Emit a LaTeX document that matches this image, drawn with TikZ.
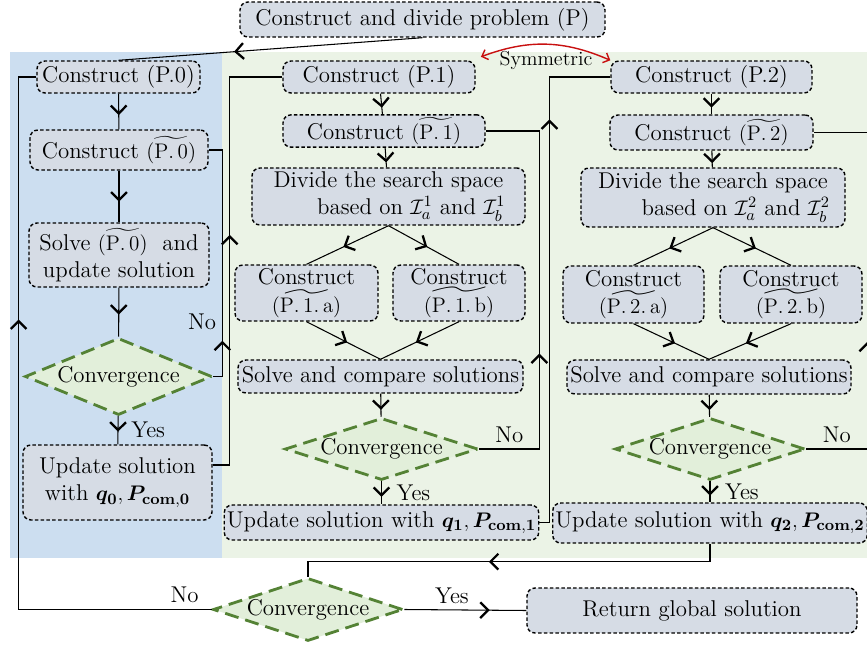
\documentclass[tikz,border=0pt]{standalone}
\usepackage{amsmath}
\usepackage{amssymb}
\usepackage{bm}
\usepackage{pgf, tikz}
\usepackage{xcolor}
\usetikzlibrary{arrows.meta, shapes.geometric, decorations.markings}

\definecolor{bgblue}{RGB}{204,222,240}
\definecolor{bggreen}{RGB}{235,243,230}
\definecolor{boxfill}{RGB}{214,220,229}
\definecolor{convfill}{RGB}{226,239,218}
\definecolor{convline}{RGB}{84,130,53}
\definecolor{symred}{RGB}{200,16,16}

\tikzset{
  every node/.style={font=\fontsize{13}{15.5}\selectfont},
  box/.style={draw, fill=boxfill, rounded corners=4.5pt, line width=0.8pt, dash pattern=on 2pt off 1.3pt, align=center, inner sep=1.5pt},
  conv/.style={diamond, aspect=3, draw=convline, fill=convfill, line width=1.6pt, dash pattern=on 8pt off 4pt, inner sep=0pt},
  link/.style={line width=0.6pt},
  midarrow/.style={postaction={decorate, decoration={markings, mark=at position #1 with {\arrow{Straight Barb[length=4.5pt,width=9pt,line width=1.3pt]}}}}},
  midarrow/.default=0.6,
}

\begin{document}
\begin{tikzpicture}[x=0.02cm, y=-0.02cm]
\useasboundingbox (0,0) rectangle (867,646);
\fill[bgblue] (10,52) rectangle (222,558);
\fill[bggreen] (222,52) rectangle (867,558);

\node[box, minimum width=7.3cm, minimum height=0.7cm] (1) at (422.5,19.5) {Construct and divide problem (P)};

% problem P.0
\node[box, minimum width=3.26cm, minimum height=0.64cm] (2) at (118.5,77) {Construct (P.0)};
\node[box, minimum width=3.56cm, minimum height=0.8cm] (3) at (119,150) {Construct $(\widetilde{\mathrm{P}.\,0})$};
\node[box, minimum width=3.6cm, minimum height=1.28cm] (4) at (119,255) {Solve $(\widetilde{\mathrm{P}.\,0})$\ \ and\\ update solution};
\node[conv, minimum width=3.74cm, minimum height=1.54cm] (5) at (118.5,376.5) {Convergence};
\node[box, minimum width=3.78cm, minimum height=1.5cm] (6) at (117.5,482.5) {Update solution\\ with $\bm{q}_{\mathbf{0}}, \bm{P}_{\mathbf{com,0}}$};

% problem P.1
\node[box, minimum width=3.84cm, minimum height=0.64cm] (7) at (379,77) {Construct (P.1)};
\node[box, minimum width=4.04cm, minimum height=0.64cm] (8) at (384,131) {Construct $(\widetilde{\mathrm{P}.\,1})$};
\node[box, minimum width=5.46cm, minimum height=1.14cm] (9) at (388.5,196.5) {Divide the search space\\ \hspace{2em}based on $\mathcal{I}_a^1$ and $\mathcal{I}_b^1$};
\node[box, minimum width=2.86cm, minimum height=1.12cm] (10) at (306.5,293) {Construct\\ $(\widetilde{\mathrm{P}.\,1.\,\mathrm{a}})$};
\node[box, minimum width=2.64cm, minimum height=1.12cm] (11) at (459,293) {Construct\\ $(\widetilde{\mathrm{P}.\,1.\,\mathrm{b}})$};
\node[box, minimum width=5.7cm, minimum height=0.66cm] (12) at (380.5,376.5) {Solve and compare solutions};
\node[conv, minimum width=3.86cm, minimum height=1.24cm] (13) at (381.5,449) {Convergence};
\node[box, minimum width=6.22cm, minimum height=0.7cm] (14) at (381.5,522.5) {Update solution with $\bm{q}_{\mathbf{1}}, \bm{P}_{\mathbf{com,1}}$};

% problem P.2
\node[box, minimum width=4.02cm, minimum height=0.64cm] (15) at (711.5,77) {Construct (P.2)};
\node[box, minimum width=4.06cm, minimum height=0.7cm] (16) at (711.5,132.5) {Construct $(\widetilde{\mathrm{P}.\,2})$};
\node[box, minimum width=5.28cm, minimum height=1.18cm] (17) at (713,197.5) {Divide the search space\\ \hspace{2em}based on $\mathcal{I}_a^2$ and $\mathcal{I}_b^2$};
\node[box, minimum width=2.82cm, minimum height=1.14cm] (18) at (633.5,294.5) {Construct\\ $(\widetilde{\mathrm{P}.\,2.\,\mathrm{a}})$};
\node[box, minimum width=2.84cm, minimum height=1.14cm] (19) at (791,294.5) {Construct\\ $(\widetilde{\mathrm{P}.\,2.\,\mathrm{b}})$};
\node[box, minimum width=5.68cm, minimum height=0.68cm] (20) at (709,377) {Solve and compare solutions};
\node[conv, minimum width=3.8cm, minimum height=1.24cm] (21) at (710,449) {Convergence};
\node[box, minimum width=6.28cm, minimum height=0.8cm] (22) at (710,523) {Update solution with $\bm{q}_{\mathbf{2}}, \bm{P}_{\mathbf{com,2}}$};

% global check
\node[conv, minimum width=3.8cm, minimum height=1.26cm] (23) at (308,609.5) {Convergence};
\node[box, minimum width=6.6cm, minimum height=0.9cm] (24) at (692,610.5) {Return global solution};

\draw[link, midarrow=0.62] (1.south) -- (2.north);
\draw[link, midarrow] (2) -- (3);
\draw[link, midarrow] (3) -- (4);
\draw[link, midarrow=0.55] (4) -- (5);
\draw[link, midarrow=0.55] (5) -- node[right=4pt] (25) {Yes} (6);
\draw[link, midarrow=0.18] (5.east) -- ++(9,0) -- ++(0,-54.5) node[left] (26) {No} |- (3.east);
\draw[link, midarrow=0.54] ([yshift=0.35cm]6.east) -- ++(17,0) |- (7.west);

\draw[link, midarrow=0.68] (7) -- (8);
\draw[link, midarrow=0.75] (8) -- (9);
\draw[link, midarrow=0.55] (9.south) -- (10.north);
\draw[link, midarrow=0.55] (9.south) -- (11.north);
\draw[link, midarrow=0.55] (10.south) -- (12.north);
\draw[link, midarrow=0.55] (11.south) -- (12.north);
\draw[link, midarrow=0.7] (12) -- (13);
\draw[link, midarrow=0.68] (13) -- node[right=5pt] (27) {Yes} (14);
\draw[link, midarrow=0.36] (13.east) -- node[above] (28) {No} ++(60,0) |- (8.east);
\draw[link, midarrow=0.8] (14.east) -- ++(10,0) |- (15.west);

\draw[link, midarrow=0.68] (15) -- (16);
\draw[link, midarrow=0.75] (16) -- (17);
\draw[link, midarrow=0.55] (17.south) -- (18.north);
\draw[link, midarrow=0.55] (17.south) -- (19.north);
\draw[link, midarrow=0.55] (18.south) -- (20.north);
\draw[link, midarrow=0.55] (19.south) -- (20.north);
\draw[link, midarrow=0.7] (20) -- (21);
\draw[link, midarrow=0.68] (21) -- node[right=5pt] (29) {Yes} (22);
\draw[link, midarrow=0.39] (21.east) -- node[above] (30) {No} ++(61,0) |- (16.east);
\draw[link, midarrow=0.55] (22.south) -- ++(0,18) -| (23.north);

\draw[link, midarrow=0.65] (23.west) -- node[pos=0.14, above] (31) {No} ++(-193,0) |- (2.west);
\draw[link, midarrow=0.7] (23.east) -- node[pos=0.39, above] (32) {Yes} (24.west);

\draw[symred, line width=0.8pt, {Straight Barb[length=3pt,width=6pt]}-{Straight Barb[length=3pt,width=6pt]}] ([xshift=3pt,yshift=2pt]7.north east) to[bend left=22] node[below, text=black, font=\fontsize{11.5}{13}\selectfont] (33) {Symmetric} (15.north west);

\end{tikzpicture}
\end{document}
